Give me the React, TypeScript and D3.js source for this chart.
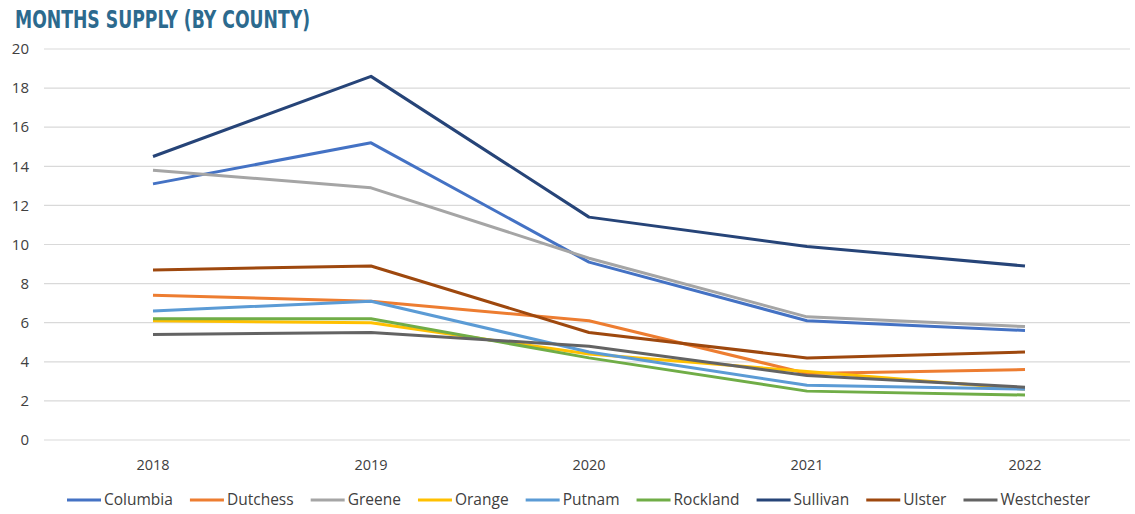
import React from "react";
import * as d3 from "d3";

const years = ["2018", "2019", "2020", "2021", "2022"];
const yTicks = [0, 2, 4, 6, 8, 10, 12, 14, 16, 18, 20];

const columbia = [13.1, 15.2, 9.1, 6.1, 5.6];
const dutchess = [7.4, 7.1, 6.1, 3.4, 3.6];
const greene = [13.8, 12.9, 9.3, 6.3, 5.8];
const orange = [6.1, 6.0, 4.4, 3.5, 2.6];
const putnam = [6.6, 7.1, 4.5, 2.8, 2.6];
const rockland = [6.2, 6.2, 4.2, 2.5, 2.3];
const sullivan = [14.5, 18.6, 11.4, 9.9, 8.9];
const ulster = [8.7, 8.9, 5.5, 4.2, 4.5];
const westchester = [5.4, 5.5, 4.8, 3.3, 2.7];

const seriesNames = ["Columbia", "Dutchess", "Greene", "Orange", "Putnam", "Rockland", "Sullivan", "Ulster", "Westchester"];
const seriesValues = [columbia, dutchess, greene, orange, putnam, rockland, sullivan, ulster, westchester];
const seriesColors = ["#4472C4", "#ED7D31", "#A5A5A5", "#FFC000", "#5B9BD5", "#70AD47", "#264478", "#9E480E", "#636363"];

const W = 1135;
const H = 514;
const FONT = "'Open Sans', 'Liberation Sans', sans-serif";

function measure(text: string, font: string): number {
  const c = document.createElement("canvas").getContext("2d");
  if (!c) return text.length * 8;
  c.font = font;
  return c.measureText(text).width;
}

export default function App() {
  const x = d3.scaleBand<string>().domain(years).range([44, 1134]);
  const y = d3.scaleLinear().domain([0, 20]).range([440, 49]);
  const line = d3
    .line<number>()
    .x((_, i) => (x(years[i]) as number) + x.bandwidth() / 2)
    .y((d) => y(d));

  // legend layout: spans from 67 to 1090
  const legendFontSize = 15.5;
  const legendFont = `${legendFontSize}px 'Open Sans'`;
  const marker = 34;
  const gapAfterMarker = 3;
  const legendStart = 67;
  const legendEnd = 1090;
  const widths = seriesNames.map((n) => measure(n, legendFont));
  const itemWidths = widths.map((w) => marker + gapAfterMarker + w);
  const itemGap = (legendEnd - legendStart - d3.sum(itemWidths)) / (seriesNames.length - 1);
  let cursor = legendStart;
  const legendX: number[] = [];
  itemWidths.forEach((w) => {
    legendX.push(cursor);
    cursor += w + itemGap;
  });

  return (
    <svg width={W} height={H} style={{ display: "block", position: "absolute", left: 0, top: 0 }}>
      <rect width={W} height={H} fill="#ffffff" />
      <text
        x={15}
        y={28}
        fill="#2C6A8E"
        fontFamily="'DejaVu Sans Condensed', 'DejaVu Sans', sans-serif"
        fontWeight="bold"
        fontSize={24}
        textLength={295}
        lengthAdjust="spacingAndGlyphs"
      >
        MONTHS SUPPLY (BY COUNTY)
      </text>
      {yTicks.map((t) => (
        <g key={t}>
          <line x1={44} x2={1130} y1={y(t)} y2={y(t)} stroke="#D9D9D9" strokeWidth={1.2} />
          <text x={29} y={y(t)} dy="0.35em" textAnchor="end" fontFamily={FONT} fontSize={15} fill="#404040">
            {t}
          </text>
        </g>
      ))}
      {years.map((yr) => (
        <text
          key={yr}
          x={(x(yr) as number) + x.bandwidth() / 2}
          y={470}
          textAnchor="middle"
          fontFamily={FONT}
          fontSize={14.5}
          fill="#404040"
        >
          {yr}
        </text>
      ))}
      {seriesNames.map((n, i) => (
        <path
          key={n}
          d={line(seriesValues[i]) || ""}
          fill="none"
          stroke={seriesColors[i]}
          strokeWidth={3}
          strokeLinejoin="round"
        />
      ))}
      {seriesNames.map((n, i) => (
        <g key={n} transform={`translate(${legendX[i]},500)`}>
          <line x1={0} x2={marker} y1={0} y2={0} stroke={seriesColors[i]} strokeWidth={3} />
          <text x={marker + gapAfterMarker} y={0} dy="0.35em" fontFamily={FONT} fontSize={legendFontSize} fill="#404040">
            {n}
          </text>
        </g>
      ))}
    </svg>
  );
}
